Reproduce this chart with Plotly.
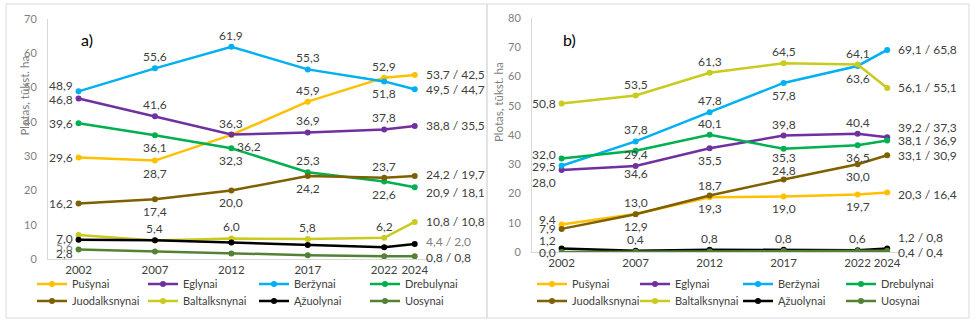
import plotly.graph_objects as go

W, H = 975, 324
FONT = "Lato"

years = [2002, 2007, 2012, 2017, 2022, 2024]
series_names = ["Pušynai", "Eglynai", "Beržynai", "Drebulynai",
                "Juodalksnynai", "Baltalksnynai", "Ąžuolynai", "Uosynai"]
colors = ["#FFC000", "#7030A0", "#00B0F0", "#00B050",
          "#7F6000", "#C9CB1E", "#000000", "#548235"]

# Panel a)
a_pusynai = [29.6, 28.7, 36.2, 45.9, 52.9, 53.7]
a_eglynai = [46.8, 41.6, 36.3, 36.9, 37.8, 38.8]
a_berzynai = [48.9, 55.6, 61.9, 55.3, 51.8, 49.5]
a_drebulynai = [39.6, 36.1, 32.3, 25.3, 22.6, 20.9]
a_juodalksnynai = [16.2, 17.4, 20.0, 24.2, 23.7, 24.2]
a_baltalksnynai = [7.0, 5.4, 6.0, 5.8, 6.2, 10.8]
a_azuolynai = [5.6, 5.5, 4.8, 4.1, 3.4, 4.4]
a_uosynai = [2.8, 2.2, 1.6, 1.1, 0.8, 0.8]
a_end_second = [42.5, 35.5, 44.7, 18.1, 19.7, 10.8, 2.0, 0.8]

# Panel b)
b_pusynai = [9.4, 13.0, 18.7, 19.0, 19.7, 20.3]
b_eglynai = [28.0, 29.4, 35.5, 39.8, 40.4, 39.2]
b_berzynai = [29.5, 37.8, 47.8, 57.8, 63.6, 69.1]
b_drebulynai = [32.0, 34.6, 40.1, 35.3, 36.5, 38.1]
b_juodalksnynai = [7.9, 12.9, 19.3, 24.8, 30.0, 33.1]
b_baltalksnynai = [50.8, 53.5, 61.3, 64.5, 64.1, 56.1]
b_azuolynai = [1.2, 0.4, 0.8, 0.8, 0.6, 1.2]
b_uosynai = [0.0, 0.1, 0.2, 0.3, 0.3, 0.4]
b_end_second = [16.4, 37.3, 65.8, 36.9, 30.9, 55.1, 0.8, 0.4]

a_series = [a_pusynai, a_eglynai, a_berzynai, a_drebulynai,
            a_juodalksnynai, a_baltalksnynai, a_azuolynai, a_uosynai]
b_series = [b_pusynai, b_eglynai, b_berzynai, b_drebulynai,
            b_juodalksnynai, b_baltalksnynai, b_azuolynai, b_uosynai]

# label placement (style): code, extra dx, extra dy (px, + = up)
a_labels = [
    ["l", "b", ("br", 0, 0), "t", "t", "e"],
    [("l", 0, -1), "t", "t", "t", "t", "e"],
    [("l", 0, 6), "t", "t", "t", "b", "e"],
    ["l", "b", "b", "t", "b", ("e", 0, -5)],
    ["l", "b", "b", "b", "t", ("e", 0, 2)],
    [("l", 0, -3), "t", "t", "t", "t", "e"],
    [("l", 0, -7), None, None, None, None, ("e", 0, 2)],
    [("l", 0, -4), None, None, None, None, ("e", 0, -1)],
]
b_labels = [
    [("l", 0, 5), "t", "t", "b", "b", ("e", 0, -2)],
    [("l", 0, -12), "t", "b", "t", "t", ("e", 0, 10)],
    [("l", 0, -1), "t", "t", "b", "b", "e"],
    [("l", 0, 4), ("b", 0, -10), "t", ("b", 0, 4), "b", "e"],
    [("l", 0, 0), "b", "b", ("t", 0, -3), "b", "e"],
    ["l", "t", "t", "t", "t", "e"],
    [("l", 0, 8), "t", "t", "t", "t", ("e", 0, 11)],
    ["l", None, None, None, None, ("e", 0, -2)],
]


def fmt(v):
    return f"{v:.1f}".replace(".", ",")


def px_x(p):
    return p / W


def px_y(p):
    return 1 - p / H


fig = go.Figure()
annotations = []

panels = [
    ("x", "y", a_series, a_end_second, a_labels, ["legend", "legend2"], True),
    ("x2", "y2", b_series, b_end_second, b_labels, ["legend3", "legend4"], False),
]

for xa, ya, series, end2, labels, legs, grey_az in panels:
    for i, (name, vals) in enumerate(zip(series_names, series)):
        fig.add_trace(go.Scatter(
            x=years, y=vals, name=name, mode="lines+markers",
            line=dict(color=colors[i], width=2.5),
            marker=dict(color=colors[i], size=6),
            xaxis=xa, yaxis=ya,
            legend=legs[0] if i < 4 else legs[1],
            hoverinfo="skip",
        ))
        for j, spec in enumerate(labels[i]):
            if spec is None:
                continue
            if isinstance(spec, tuple):
                code, dx, dy = spec
            else:
                code, dx, dy = spec, 0, 0
            text = fmt(vals[j])
            col = "#404040"
            if grey_az and name == "Ąžuolynai":
                col = "#808080"
            if code == "l":
                xan, yan, xs, ys = "right", "middle", -4, 0
            elif code == "t":
                xan, yan, xs, ys = "center", "bottom", 0, 2
            elif code == "b":
                xan, yan, xs, ys = "center", "top", 0, -3
            elif code == "br":
                xan, yan, xs, ys = "left", "top", 4, -2
            else:  # end label
                xan, yan, xs, ys = "left", "middle", 9, 0
                text = fmt(vals[j]) + " / " + fmt(end2[i])
            annotations.append(dict(
                x=years[j], y=vals[j], xref=xa, yref=ya, text=text,
                showarrow=False, xanchor=xan, yanchor=yan,
                xshift=xs + dx, yshift=ys + dy,
                font=dict(family=FONT, size=12, color=col),
            ))

# panel titles and axis titles
annotations += [
    dict(x=px_x(79), y=px_y(28), xref="paper", yref="paper", text="a)",
         showarrow=False, font=dict(family=FONT, size=16, color="#000000")),
    dict(x=px_x(569), y=px_y(28), xref="paper", yref="paper", text="b)",
         showarrow=False, font=dict(family=FONT, size=16, color="#000000")),
    dict(x=px_x(16), y=px_y(54), xref="paper", yref="paper",
         text="Plotas, tūkst. ha", textangle=-90, showarrow=False,
         font=dict(family=FONT, size=11.5, color="#808080")),
    dict(x=px_x(499), y=px_y(60), xref="paper", yref="paper",
         text="Plotas, tūkst. ha", textangle=-90, showarrow=False,
         font=dict(family=FONT, size=11.5, color="#808080")),
]

axis_common = dict(showgrid=False, zeroline=False, showline=True,
                   linecolor="#d9d9d9", linewidth=1, ticks="",
                   automargin=False)
xcommon = dict(axis_common, tickvals=years, range=[2000, 2025], tickangle=0,
               tickfont=dict(family=FONT, size=11.5, color="#404040"))
ycommon = dict(axis_common, dtick=10,
               tickfont=dict(family=FONT, size=11, color="#808080"),
               ticklabelstandoff=8)

leg_common = dict(orientation="h", bgcolor="rgba(0,0,0,0)", itemwidth=30,
                  entrywidthmode="pixels", yanchor="middle", xanchor="left",
                  font=dict(family=FONT, size=11, color="#404040"),
                  tracegroupgap=0, itemclick=False)

fig.update_layout(
    width=W, height=H, margin=dict(l=0, r=0, t=0, b=0, autoexpand=False),
    paper_bgcolor="white", plot_bgcolor="white",
    font=dict(family=FONT),
    xaxis=dict(xcommon, domain=[px_x(48), px_x(430)], anchor="y"),
    yaxis=dict(ycommon, domain=[px_y(259), px_y(19)], range=[0, 70], anchor="x"),
    xaxis2=dict(xcommon, domain=[px_x(532), px_x(902)], anchor="y2"),
    yaxis2=dict(ycommon, domain=[px_y(252), px_y(18)], range=[0, 80], anchor="x2"),
    legend=dict(leg_common, x=px_x(32), y=px_y(284), entrywidth=66),
    legend2=dict(leg_common, x=px_x(32), y=px_y(301), entrywidth=66),
    legend3=dict(leg_common, x=px_x(532), y=px_y(284), entrywidth=58),
    legend4=dict(leg_common, x=px_x(532), y=px_y(301), entrywidth=58),
    annotations=annotations,
    shapes=[
        dict(type="rect", xref="paper", yref="paper",
             x0=px_x(6), x1=px_x(487), y0=px_y(318), y1=px_y(4),
             line=dict(color="#d9d9d9", width=1)),
        dict(type="rect", xref="paper", yref="paper",
             x0=px_x(487), x1=px_x(969), y0=px_y(318), y1=px_y(4),
             line=dict(color="#d9d9d9", width=1)),
    ],
    showlegend=True,
)

fig.write_html("out.html")
